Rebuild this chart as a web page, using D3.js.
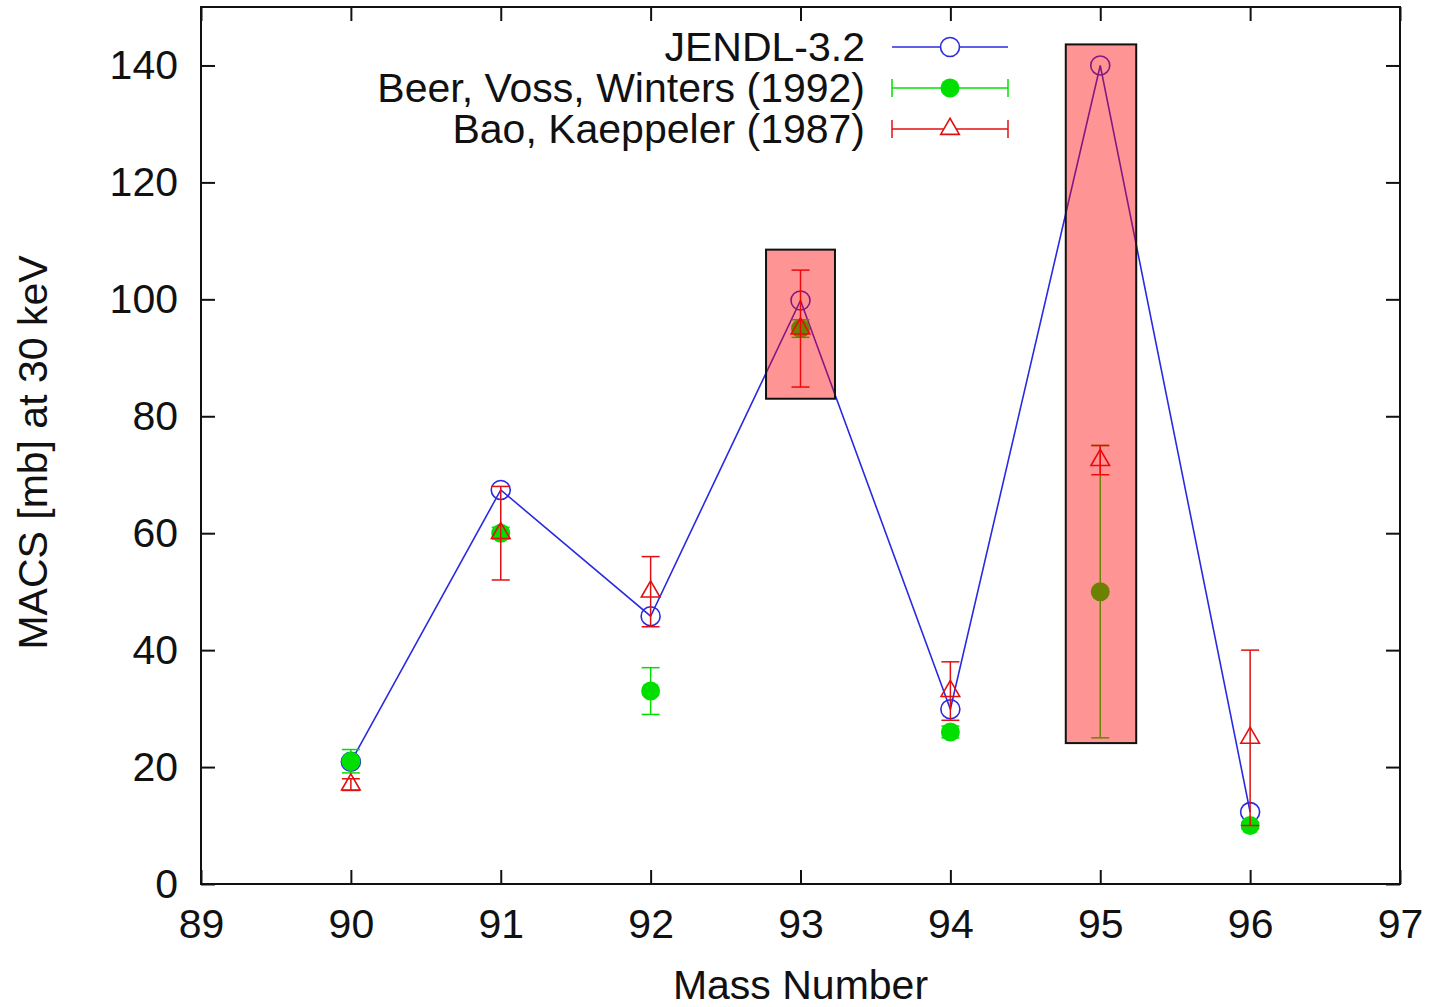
<!DOCTYPE html>
<html>
<head>
<meta charset="utf-8">
<script src="https://cdnjs.cloudflare.com/ajax/libs/d3/7.8.5/d3.min.js"></script>
<style>
  body { margin: 0; background: #fff; }
  svg text { font-family: "Liberation Sans", Arial, Helvetica, sans-serif; fill: #111; }
</style>
</head>
<body>
<div class="chart"></div>
<script>
// mass numbers
var massNumbers = [90, 91, 92, 93, 94, 95, 96];

// JENDL-3.2 evaluation
var jendl = [20.9, 67.4, 45.8, 99.8, 29.9, 140, 12.3];

// Beer, Voss, Winters (1992): value and error
var beerValue = [21, 60, 33, 95, 26, 50, 10];
var beerError = [2, 1, 4, 1.5, 1, 25, 0.5];

// Bao, Kaeppeler (1987): value and error
var baoValue = [17, 60, 50, 95, 33, 72.5, 25];
var baoError = [1, 8, 6, 10, 5, 2.5, 15];

// highlight boxes (mass range, MACS range)
var boxMass = [[92.77, 93.23], [94.77, 95.24]];
var boxMacs = [[83, 108.5], [24.1, 143.6]];

var xTicks = [89, 90, 91, 92, 93, 94, 95, 96, 97];
var yTicks = [0, 20, 40, 60, 80, 100, 120, 140];
var legendLabels = ["JENDL-3.2", "Beer, Voss, Winters (1992)", "Bao, Kaeppeler (1987)"];

var blue = "#2a2ae0", green = "#00e000", red = "#e01010";
var fontSize = "41px";

var margin = { top: 7, right: 35, bottom: 123, left: 201 },
    width = 1435 - margin.left - margin.right,
    height = 1007 - margin.top - margin.bottom;

var svg = d3.select(".chart")
    .append("svg")
    .attr("width", 1435)
    .attr("height", 1007)
    .append("g")
    .attr("transform", "translate(" + margin.left + "," + margin.top + ")");

var x = d3.scaleLinear().domain([89, 97]).range([0, width]);
var y = d3.scaleLinear().domain([0, 150]).range([height, 0]);

var tickLen = 14;

// axes with inward ticks, mirrored like gnuplot
svg.append("g")
    .attr("transform", "translate(0," + height + ")")
    .call(d3.axisBottom(x).tickValues(xTicks).tickSize(-tickLen).tickPadding(25).tickFormat(d3.format("d")))
    .call(styleAxis);
svg.append("g")
    .call(d3.axisTop(x).tickValues(xTicks).tickSize(-tickLen).tickFormat(""))
    .call(styleAxis);
svg.append("g")
    .call(d3.axisLeft(y).tickValues(yTicks).tickSize(-tickLen).tickPadding(23))
    .call(styleAxis);
svg.append("g")
    .attr("transform", "translate(" + width + ",0)")
    .call(d3.axisRight(y).tickValues(yTicks).tickSize(-tickLen).tickFormat(""))
    .call(styleAxis);

function styleAxis(g) {
    g.select(".domain").remove();
    g.selectAll(".tick line").attr("stroke", "#111").attr("stroke-width", 2);
    g.selectAll(".tick text").style("font-size", fontSize).attr("fill", "#111");
}

svg.append("rect")
    .attr("width", width)
    .attr("height", height)
    .attr("fill", "none")
    .attr("stroke", "#111")
    .attr("stroke-width", 2);

// axis titles
svg.append("text")
    .attr("x", width / 2)
    .attr("y", height + 115)
    .attr("text-anchor", "middle")
    .style("font-size", fontSize)
    .text("Mass Number");
svg.append("text")
    .attr("transform", "translate(" + (-154) + "," + (height / 2 + 7) + ") rotate(-90)")
    .attr("text-anchor", "middle")
    .style("font-size", fontSize)
    .text("MACS [mb] at 30 keV");

var capW = 9;

// JENDL line + open circles
var line = d3.line()
    .x(function (d, i) { return x(massNumbers[i]); })
    .y(function (d) { return y(d); });

svg.append("path")
    .datum(jendl)
    .attr("d", line)
    .attr("fill", "none")
    .attr("stroke", blue)
    .attr("stroke-width", 1.6);

svg.selectAll(".jendl")
    .data(jendl)
    .enter().append("circle")
    .attr("class", "jendl")
    .attr("cx", function (d, i) { return x(massNumbers[i]); })
    .attr("cy", function (d) { return y(d); })
    .attr("r", 9.5)
    .attr("fill", "none")
    .attr("stroke", blue)
    .attr("stroke-width", 1.6);

function errorBars(values, errors, color, cls) {
    var g = svg.selectAll("." + cls)
        .data(values)
        .enter().append("g")
        .attr("class", cls)
        .attr("stroke", color)
        .attr("stroke-width", 1.5);
    g.append("line")
        .attr("x1", function (d, i) { return x(massNumbers[i]); })
        .attr("x2", function (d, i) { return x(massNumbers[i]); })
        .attr("y1", function (d, i) { return y(d - errors[i]); })
        .attr("y2", function (d, i) { return y(d + errors[i]); });
    [-1, 1].forEach(function (s) {
        g.append("line")
            .attr("x1", function (d, i) { return x(massNumbers[i]) - capW; })
            .attr("x2", function (d, i) { return x(massNumbers[i]) + capW; })
            .attr("y1", function (d, i) { return y(d + s * errors[i]); })
            .attr("y2", function (d, i) { return y(d + s * errors[i]); });
    });
}

// Beer, Voss, Winters
errorBars(beerValue, beerError, green, "beer");
svg.selectAll(".beerDot")
    .data(beerValue)
    .enter().append("circle")
    .attr("cx", function (d, i) { return x(massNumbers[i]); })
    .attr("cy", function (d) { return y(d); })
    .attr("r", 9.5)
    .attr("fill", green);

// Bao, Kaeppeler
var tri = d3.symbol().type(d3.symbolTriangle).size(150);
errorBars(baoValue, baoError, red, "bao");
svg.selectAll(".baoTri")
    .data(baoValue)
    .enter().append("path")
    .attr("d", tri)
    .attr("transform", function (d, i) { return "translate(" + x(massNumbers[i]) + "," + y(d) + ")"; })
    .attr("fill", "none")
    .attr("stroke", red)
    .attr("stroke-width", 1.6);

// translucent highlight boxes
svg.selectAll(".box")
    .data(boxMass)
    .enter().append("rect")
    .attr("x", function (d) { return x(d[0]); })
    .attr("width", function (d) { return x(d[1]) - x(d[0]); })
    .attr("y", function (d, i) { return y(boxMacs[i][1]); })
    .attr("height", function (d, i) { return y(boxMacs[i][0]) - y(boxMacs[i][1]); })
    .attr("fill", "rgba(255,0,0,0.42)")
    .attr("stroke", "#111")
    .attr("stroke-width", 2);

// legend
var legend = svg.append("g");
var rowY = [40, 81, 122];
var lx0 = 691, lx1 = 807, lxm = 749;
legendLabels.forEach(function (label, i) {
    legend.append("text")
        .attr("x", 664)
        .attr("y", rowY[i] + 14)
        .attr("text-anchor", "end")
        .style("font-size", fontSize)
        .text(label);
});
legend.append("line").attr("x1", lx0).attr("x2", lx1).attr("y1", rowY[0]).attr("y2", rowY[0])
    .attr("stroke", blue).attr("stroke-width", 1.5);
legend.append("circle").attr("cx", lxm).attr("cy", rowY[0]).attr("r", 9.5)
    .attr("fill", "#fff").attr("stroke", blue).attr("stroke-width", 1.6);
[[green, 1], [red, 2]].forEach(function (p) {
    var c = p[0], yy = rowY[p[1]];
    legend.append("line").attr("x1", lx0).attr("x2", lx1).attr("y1", yy).attr("y2", yy)
        .attr("stroke", c).attr("stroke-width", 1.5);
    [lx0, lx1].forEach(function (xx) {
        legend.append("line").attr("x1", xx).attr("x2", xx).attr("y1", yy - 9).attr("y2", yy + 9)
            .attr("stroke", c).attr("stroke-width", 1.5);
    });
});
legend.append("circle").attr("cx", lxm).attr("cy", rowY[1]).attr("r", 9.5).attr("fill", green);
legend.append("path").attr("d", tri)
    .attr("transform", "translate(" + lxm + "," + rowY[2] + ")")
    .attr("fill", "#fff").attr("stroke", red).attr("stroke-width", 1.6);
</script>
</body>
</html>
